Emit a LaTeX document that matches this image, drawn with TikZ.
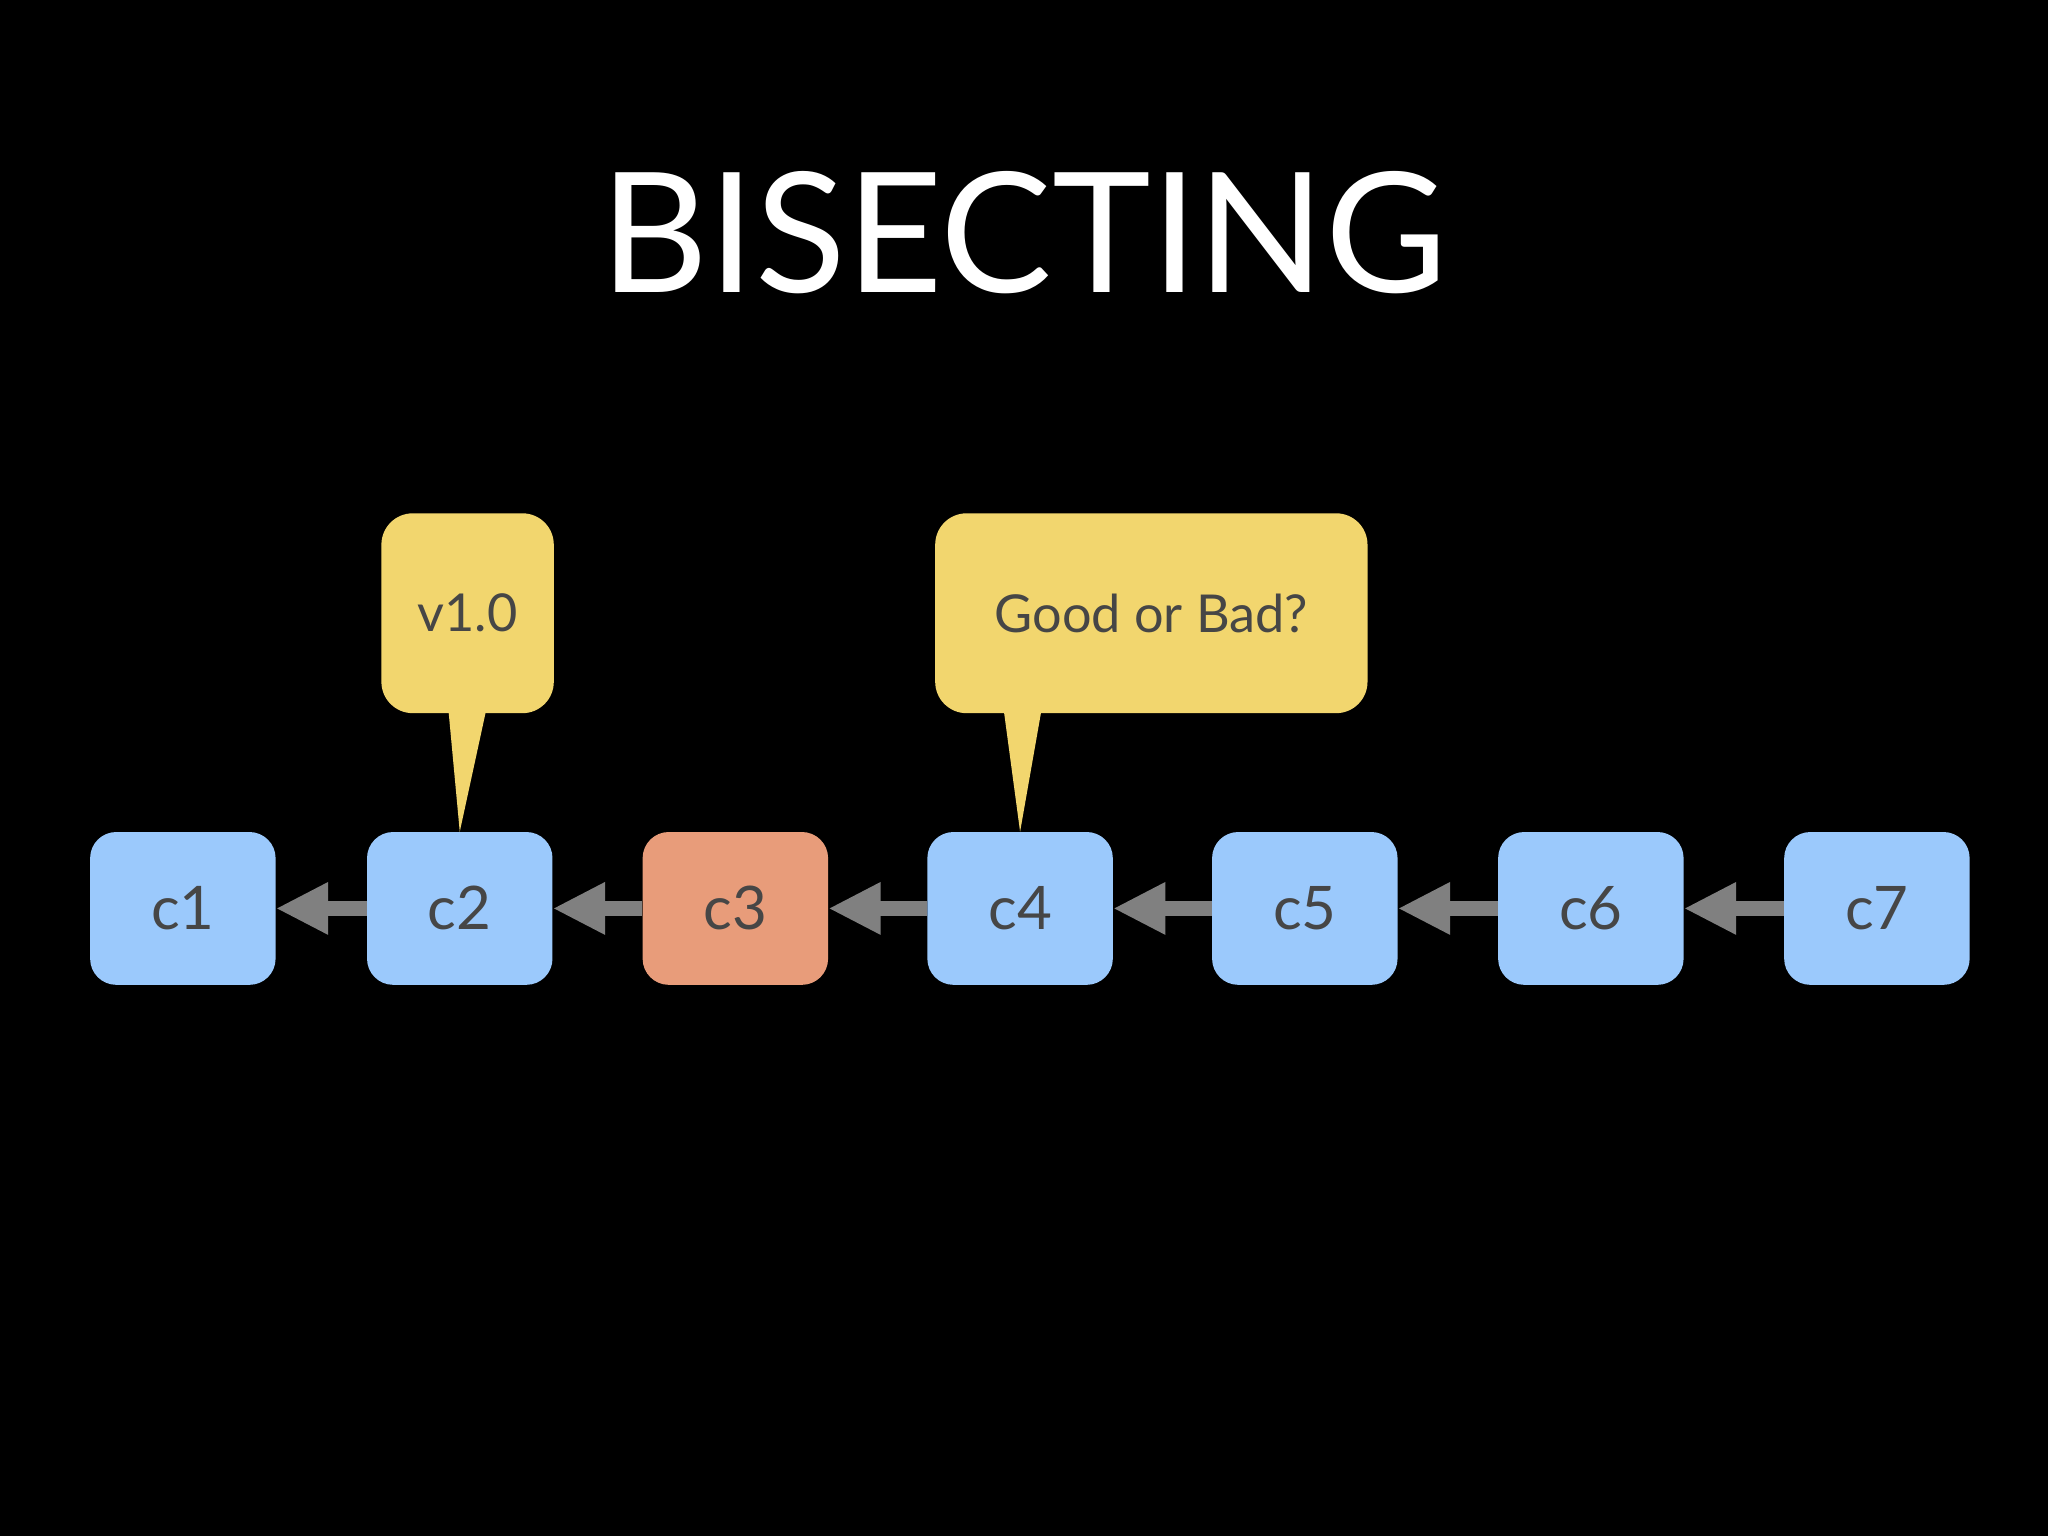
\documentclass[tikz,border=0pt]{standalone}
\usepackage{fontspec}
\setmainfont{Lato}
\usetikzlibrary{arrows.meta}
\definecolor{cblue}{RGB}{155,201,252}
\definecolor{corange}{RGB}{232,156,122}
\definecolor{cyel}{RGB}{242,214,110}
\definecolor{ctxt}{RGB}{70,70,70}
\definecolor{carr}{RGB}{128,128,128}
\tikzset{
 commit/.style={draw=none,rounded corners=20pt,minimum width=142pt,minimum height=117pt,inner sep=0pt,text=ctxt,font=\fontsize{46}{50}\selectfont},
 callout/.style={fill=cyel,draw=none,rounded corners=24pt,minimum height=153pt,inner sep=0pt,text=ctxt,font=\fontsize{40}{44}\selectfont},
 link/.style={draw=carr,line width=11pt,-{Triangle[length=40pt,width=48pt,angle'=50]}},
}
\begin{document}
\begin{tikzpicture}[x=1pt,y=-1pt]
\fill[black] (0,0) rectangle (1568,1176);
\useasboundingbox (0,0) rectangle (1568,1176);
\node[text=white,font=\fontsize{128}{130}\selectfont] (title) at (784,178) {BISECTING};
\foreach \n/\x/\c in {1/140/cblue,2/352/cblue,3/563/corange,4/781/cblue,5/999/cblue,6/1218/cblue,7/1437/cblue}
  \node[commit,fill=\c] (c\n) at (\x,695.5) {c\n};
\foreach \a/\b in {2/1,3/2,4/3,5/4,6/5,7/6}
  \draw[link] (c\a.west) -- (c\b.east);
\node[callout,minimum width=132pt] (v) at (358,469.5) {v1.0};
\node[callout,minimum width=331pt] (g) at (881.5,469.5) {Good or Bad?};
\fill[cyel] (343,540) -- (373,540) -- (c2.north) -- cycle;
\fill[cyel] (768,540) -- (798,540) -- (c4.north) -- cycle;
\end{tikzpicture}
\end{document}
